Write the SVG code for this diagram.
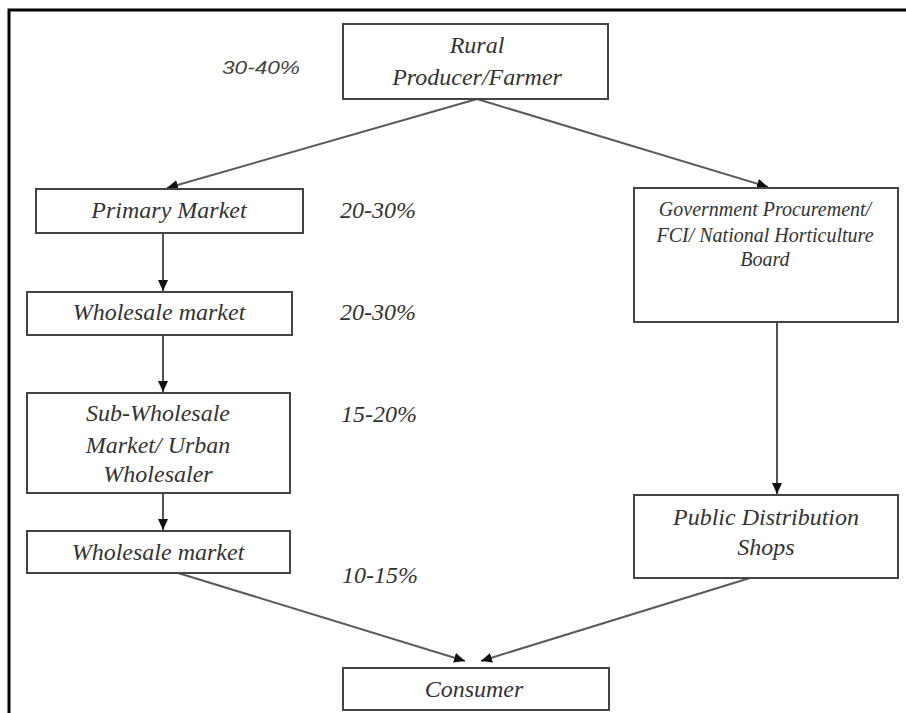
<svg xmlns="http://www.w3.org/2000/svg" width="906" height="713" viewBox="0 0 906 713">
  <style>
    .box { fill: #ffffff; stroke: #444444; stroke-width: 2; }
    .t { font-family: "Liberation Serif", "DejaVu Serif", serif; font-style: italic; font-size: 24px; fill: #333333; text-anchor: middle; }
    .g { font-size: 20px; }
    .pct { font-family: "Liberation Serif", "DejaVu Serif", serif; font-style: italic; font-size: 24px; fill: #333333; }
    .pct2 { font-family: "Liberation Sans", "DejaVu Sans", sans-serif; font-style: italic; font-size: 19px; fill: #444444; }
    .diag { stroke: #5a5a5a; stroke-width: 2; fill: none; marker-end: url(#ah); }
    .vert { stroke: #1a1a1a; stroke-width: 1.5; fill: none; marker-end: url(#ah); }
  </style>
  <defs>
    <marker id="ah" markerUnits="userSpaceOnUse" markerWidth="12" markerHeight="10" refX="11" refY="5" orient="auto">
      <path d="M0,0 L11,5 L0,10 z" fill="#111111"/>
    </marker>
  </defs>
  <rect x="0" y="0" width="906" height="713" fill="#ffffff"/>
  <path d="M9,713 V10 H906" fill="none" stroke="#000000" stroke-width="3"/>

  <g id="connectors">
    <line class="diag" x1="477" y1="99" x2="167" y2="188"/>
    <line class="diag" x1="477" y1="99" x2="768" y2="187"/>
    <line class="vert" x1="163" y1="233" x2="163" y2="291"/>
    <line class="vert" x1="163" y1="335" x2="163" y2="392"/>
    <line class="vert" x1="163" y1="493" x2="163" y2="530"/>
    <line class="vert" x1="777" y1="322" x2="777" y2="494"/>
    <line class="diag" x1="178" y1="573" x2="465" y2="661"/>
    <line class="diag" x1="750" y1="578" x2="481" y2="661"/>
  </g>

  <g id="label-30-40">
    <text class="pct2" x="222" y="74" textLength="78" lengthAdjust="spacingAndGlyphs">30-40%</text>
  </g>

  <g id="rural">
    <rect class="box" x="343" y="24" width="265" height="75"/>
    <text class="t" x="477" y="53">Rural</text>
    <text class="t" x="477" y="85">Producer/Farmer</text>
  </g>

  <g id="primary">
    <rect class="box" x="36" y="189" width="267" height="44"/>
    <text class="t" x="169" y="218">Primary Market</text>
  </g>
  <g id="label-primary"><text class="pct" x="340" y="218">20-30%</text></g>

  <g id="wholesale1">
    <rect class="box" x="27" y="292" width="265" height="43"/>
    <text class="t" x="159" y="320">Wholesale market</text>
  </g>
  <g id="label-wholesale1"><text class="pct" x="340" y="320">20-30%</text></g>

  <g id="subwholesale">
    <rect class="box" x="27" y="393" width="263" height="100"/>
    <text class="t" x="158" y="421">Sub-Wholesale</text>
    <text class="t" x="158" y="453">Market/ Urban</text>
    <text class="t" x="158" y="482">Wholesaler</text>
  </g>
  <g id="label-sub"><text class="pct" x="341" y="422">15-20%</text></g>

  <g id="wholesale2">
    <rect class="box" x="27" y="531" width="263" height="42"/>
    <text class="t" x="158" y="560">Wholesale market</text>
  </g>
  <g id="label-wholesale2"><text class="pct" x="342" y="583">10-15%</text></g>

  <g id="government">
    <rect class="box" x="634" y="188" width="264" height="134"/>
    <text class="t g" x="765" y="216">Government Procurement/</text>
    <text class="t g" x="765" y="242">FCI/ National Horticulture</text>
    <text class="t g" x="765" y="266">Board</text>
  </g>

  <g id="pds">
    <rect class="box" x="634" y="495" width="264" height="83"/>
    <text class="t" x="766" y="525">Public Distribution</text>
    <text class="t" x="766" y="555">Shops</text>
  </g>

  <g id="consumer">
    <rect class="box" x="343" y="668" width="266" height="42"/>
    <text class="t" x="474" y="697">Consumer</text>
  </g>
</svg>
